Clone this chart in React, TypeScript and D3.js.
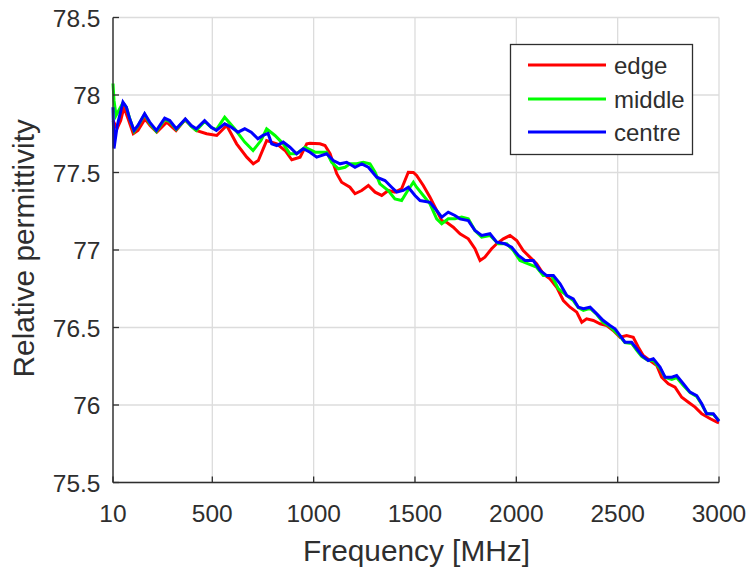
import React from "react";
import * as d3 from "d3";

const xTicks = [10, 500, 1000, 1500, 2000, 2500, 3000];
const yTicks = [75.5, 76, 76.5, 77, 77.5, 78, 78.5];
const seriesNames = ["edge", "middle", "centre"];
const seriesColors = ["#ff0000", "#00ff00", "#0000ff"];

const edgeData: [number, number][] = [
  [10, 77.835], [30, 77.784], [48, 77.835], [64, 77.921], [84, 77.848], [110, 77.75], [133, 77.771],
  [168, 77.846], [193, 77.803], [226, 77.76], [275, 77.825], [321, 77.771], [365, 77.84], [420, 77.771],
  [472, 77.75], [522, 77.739], [571, 77.803], [620, 77.685], [670, 77.599], [702, 77.556], [727, 77.577],
  [768, 77.706], [818, 77.685], [859, 77.642], [892, 77.582], [933, 77.599], [966, 77.685], [982, 77.689],
  [1031, 77.685], [1056, 77.674], [1081, 77.621], [1114, 77.492], [1138, 77.437], [1179, 77.405],
  [1204, 77.363], [1237, 77.384], [1270, 77.416], [1303, 77.373], [1336, 77.352], [1368, 77.384],
  [1401, 77.373], [1434, 77.395], [1467, 77.502], [1492, 77.5], [1508, 77.481], [1541, 77.416],
  [1574, 77.341], [1607, 77.255], [1632, 77.19], [1656, 77.179], [1689, 77.147], [1722, 77.105],
  [1763, 77.072], [1796, 77.008], [1821, 76.932], [1845, 76.954], [1878, 77.008], [1903, 77.04],
  [1936, 77.072], [1969, 77.094], [2002, 77.061], [2034, 76.997], [2067, 76.954], [2100, 76.911],
  [2133, 76.846], [2166, 76.814], [2199, 76.76], [2232, 76.674], [2265, 76.631], [2298, 76.599],
  [2323, 76.534], [2347, 76.556], [2380, 76.545], [2413, 76.524], [2446, 76.513], [2478, 76.481],
  [2512, 76.437], [2544, 76.448], [2577, 76.437], [2602, 76.373], [2626, 76.319], [2659, 76.287],
  [2693, 76.255], [2717, 76.179], [2750, 76.137], [2783, 76.115], [2816, 76.05], [2849, 76.018],
  [2882, 75.986], [2915, 75.943], [2957, 75.911], [2990, 75.889], [3000, 75.885],
];

const middleData: [number, number][] = [
  [10, 78.074], [15, 77.965], [25, 77.868], [59, 77.95], [76, 77.92], [92, 77.85], [114, 77.765],
  [133, 77.8], [166, 77.875], [191, 77.817], [224, 77.765], [265, 77.843], [290, 77.828], [322, 77.777],
  [367, 77.842], [396, 77.797], [421, 77.771], [462, 77.829], [495, 77.79], [520, 77.777], [561, 77.857],
  [610, 77.782], [660, 77.696], [701, 77.642], [740, 77.706], [768, 77.782], [809, 77.739], [850, 77.685],
  [883, 77.621], [916, 77.621], [957, 77.663], [1007, 77.631], [1064, 77.631], [1089, 77.566],
  [1122, 77.524], [1155, 77.534], [1179, 77.556], [1212, 77.556], [1245, 77.566], [1278, 77.556],
  [1303, 77.502], [1327, 77.427], [1368, 77.384], [1401, 77.33], [1434, 77.319], [1459, 77.373],
  [1492, 77.437], [1508, 77.405], [1541, 77.352], [1574, 77.298], [1607, 77.201], [1632, 77.169],
  [1664, 77.201], [1697, 77.201], [1730, 77.212], [1763, 77.201], [1796, 77.126], [1829, 77.083],
  [1870, 77.094], [1911, 77.04], [1953, 77.04], [1985, 76.997], [2018, 76.932], [2059, 76.911],
  [2100, 76.889], [2133, 76.835], [2174, 76.835], [2207, 76.75], [2249, 76.706], [2281, 76.674],
  [2306, 76.629], [2331, 76.61], [2364, 76.623], [2397, 76.584], [2429, 76.532], [2462, 76.506],
  [2512, 76.442], [2536, 76.403], [2569, 76.397], [2594, 76.352], [2619, 76.313], [2651, 76.287],
  [2676, 76.287], [2709, 76.235], [2734, 76.177], [2767, 76.165], [2791, 76.177], [2824, 76.126],
  [2857, 76.081], [2890, 76.055], [2915, 76.003], [2939, 75.945], [2972, 75.939], [3000, 75.9],
];

const centreData: [number, number][] = [
  [10, 77.921], [15, 77.655], [31, 77.803], [59, 77.954], [76, 77.921], [92, 77.848], [114, 77.771],
  [133, 77.803], [166, 77.879], [191, 77.825], [224, 77.771], [265, 77.85], [290, 77.835], [322, 77.782],
  [367, 77.846], [396, 77.803], [421, 77.782], [462, 77.835], [495, 77.792], [520, 77.771], [561, 77.814],
  [594, 77.792], [627, 77.76], [660, 77.782], [692, 77.76], [725, 77.717], [750, 77.739], [775, 77.752],
  [793, 77.685], [818, 77.674], [850, 77.696], [883, 77.663], [916, 77.621], [949, 77.653], [982, 77.631],
  [1015, 77.599], [1064, 77.621], [1097, 77.577], [1130, 77.556], [1163, 77.566], [1204, 77.534],
  [1237, 77.556], [1270, 77.534], [1311, 77.47], [1352, 77.448], [1385, 77.405], [1410, 77.373],
  [1442, 77.384], [1467, 77.405], [1500, 77.352], [1525, 77.319], [1574, 77.308], [1607, 77.255],
  [1632, 77.212], [1664, 77.244], [1697, 77.223], [1722, 77.201], [1763, 77.19], [1796, 77.126],
  [1829, 77.094], [1870, 77.105], [1903, 77.05], [1944, 77.04], [1977, 77.018], [2010, 76.965],
  [2043, 76.932], [2084, 76.932], [2117, 76.868], [2150, 76.835], [2183, 76.835], [2216, 76.782],
  [2249, 76.706], [2281, 76.685], [2306, 76.631], [2331, 76.621], [2364, 76.631], [2397, 76.588],
  [2429, 76.545], [2462, 76.513], [2487, 76.492], [2512, 76.448], [2536, 76.405], [2569, 76.405],
  [2594, 76.363], [2619, 76.319], [2651, 76.287], [2676, 76.298], [2709, 76.244], [2734, 76.179],
  [2767, 76.179], [2791, 76.19], [2824, 76.137], [2857, 76.083], [2890, 76.061], [2915, 76.008],
  [2939, 75.943], [2972, 75.943], [3000, 75.895],
];

const allSeries = [edgeData, middleData, centreData];

const W = 751;
const H = 569;
const M = { left: 113, right: 719, top: 17.5, bottom: 482.5 };
const FONT = "'Liberation Sans', Arial, Helvetica, sans-serif";
const TXT = "#2e2e2e";

export default function App() {
  const x = d3.scaleLinear().domain([10, 3000]).range([M.left, M.right]);
  const y = d3.scaleLinear().domain([75.5, 78.5]).range([M.bottom, M.top]);
  const line = d3
    .line<[number, number]>()
    .x((d) => x(d[0]))
    .y((d) => y(d[1]));

  const legX = 510.5;
  const legY = 44.5;
  const legW = 182;
  const legH = 110;
  const rowY = [65, 99, 132];

  return (
    <svg
      width={W}
      height={H}
      style={{ position: "absolute", left: 0, top: 0, background: "#fff" }}
      fontFamily={FONT}
    >
      <rect x={0} y={0} width={W} height={H} fill="#fff" />
      {xTicks.map((t) => (
        <line key={"gx" + t} x1={x(t)} x2={x(t)} y1={M.top} y2={M.bottom} stroke="#dcdcdc" strokeWidth={1.3} />
      ))}
      {yTicks.map((t) => (
        <line key={"gy" + t} x1={M.left} x2={M.right} y1={y(t)} y2={y(t)} stroke="#dcdcdc" strokeWidth={1.3} />
      ))}
      {allSeries.map((s, i) => (
        <path
          key={seriesNames[i]}
          d={line(s) || ""}
          fill="none"
          stroke={seriesColors[i]}
          strokeWidth={3}
          strokeLinejoin="miter"
        />
      ))}
      <line x1={M.left} x2={M.left} y1={M.top} y2={M.bottom} stroke={TXT} strokeWidth={1.4} />
      <line x1={M.left} x2={M.right} y1={M.bottom} y2={M.bottom} stroke={TXT} strokeWidth={1.4} />
      {xTicks.map((t) => (
        <line key={"tx" + t} x1={x(t)} x2={x(t)} y1={M.bottom} y2={M.bottom - 6} stroke={TXT} strokeWidth={1.3} />
      ))}
      {yTicks.map((t) => (
        <line key={"ty" + t} x1={M.left} x2={M.left + 6} y1={y(t)} y2={y(t)} stroke={TXT} strokeWidth={1.3} />
      ))}
      {xTicks.map((t) => (
        <text key={"lx" + t} x={x(t)} y={521.5} textAnchor="middle" fontSize={24.5} fill={TXT}>
          {t}
        </text>
      ))}
      {yTicks.map((t) => (
        <text key={"ly" + t} x={100.5} y={y(t) + 9} textAnchor="end" fontSize={24.5} fill={TXT}>
          {t}
        </text>
      ))}
      <text x={(M.left + M.right) / 2 + 0.5} y={560.5} textAnchor="middle" fontSize={29.8} fill={TXT}>
        Frequency [MHz]
      </text>
      <text
        transform={`translate(33.5, ${248.3}) rotate(-90)`}
        textAnchor="middle"
        fontSize={29.8}
        fill={TXT}
      >
        Relative permittivity
      </text>
      <rect x={legX} y={legY} width={legW} height={legH} fill="#fff" stroke={TXT} strokeWidth={1.3} />
      {seriesNames.map((n, i) => (
        <g key={"leg" + n}>
          <line x1={528} x2={606} y1={rowY[i]} y2={rowY[i]} stroke={seriesColors[i]} strokeWidth={3} />
          <text x={614} y={rowY[i] + 8.5} fontSize={24} fill={TXT}>
            {n}
          </text>
        </g>
      ))}
    </svg>
  );
}
